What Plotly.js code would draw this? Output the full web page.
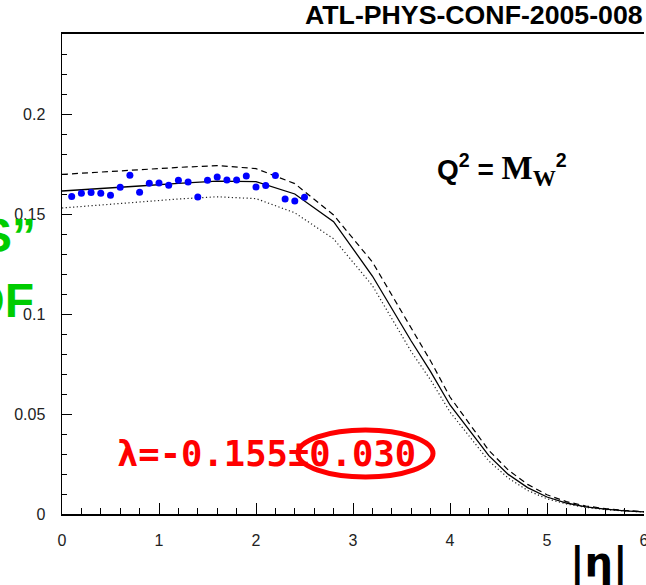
<!DOCTYPE html>
<html>
<head>
<meta charset="utf-8">
<script src="https://cdn.plot.ly/plotly-3.0.1.min.js"></script>
<style>html,body{margin:0;padding:0;background:#fff;}#chart{width:646px;height:585px;}</style>
</head>
<body>
<div id="chart"></div>
<script>
// pseudo-data points (|eta|, value)
const etaData = [0.1,0.2,0.3,0.4,0.5,0.6,0.7,0.8,0.9,1.0,1.1,1.2,1.3,1.4,1.5,1.6,1.7,1.8,1.9,2.0,2.1,2.2,2.3,2.4,2.5];
const valData = [0.1587,0.1604,0.1607,0.1604,0.1594,0.1634,0.1694,0.1609,0.1654,0.1655,0.1644,0.1669,0.1660,0.1585,0.1669,0.1685,0.1670,0.1670,0.1690,0.1635,0.1642,0.1692,0.1575,0.1565,0.1584];

// prediction curves
const etaCurve = [0.0,0.4,0.8,1.2,1.6,2.0,2.4,2.8,3.2,3.6,3.8,4.0,4.2,4.4,4.6,4.8,5.0,5.2,5.4,5.6,5.8,6.0];
const central  = [0.1615,0.1626,0.1640,0.1653,0.1664,0.1662,0.1600,0.1462,0.1190,0.0865,0.0712,0.0545,0.0418,0.0292,0.0198,0.0132,0.0085,0.0055,0.0036,0.0024,0.0016,0.0011];
const upper    = [0.1698,0.1710,0.1722,0.1733,0.1742,0.1727,0.1652,0.1495,0.1260,0.0928,0.0765,0.0585,0.0450,0.0318,0.0220,0.0148,0.0096,0.0062,0.0040,0.0027,0.0018,0.0012];
const lower    = [0.1530,0.1545,0.1560,0.1575,0.1586,0.1577,0.1506,0.1376,0.1142,0.0812,0.0670,0.0510,0.0388,0.0265,0.0180,0.0118,0.0076,0.0050,0.0033,0.0022,0.0015,0.0010];

const topLabel = "ATL-PHYS-CONF-2005-008";
const lambdaLabel = "λ=-0.155±0.030";

const traces = [
  {x: etaCurve, y: upper, mode: 'lines', line: {color: 'black', width: 1.2, dash: '6px,4px'}, hoverinfo: 'skip'},
  {x: etaCurve, y: lower, mode: 'lines', line: {color: '#222', width: 1.2, dash: '1.2px,2.5px'}, hoverinfo: 'skip'},
  {x: etaCurve, y: central, mode: 'lines', line: {color: 'black', width: 1.3}, hoverinfo: 'skip'},
  {x: etaData, y: valData, mode: 'markers', marker: {color: 'rgb(0,0,255)', size: 7}, cliponaxis: false}
];

const PL = 62, PT = 34, PW = 582, PH = 480;
function px(xp){ return (xp - PL)/PW; }
function py(yp){ return (PT + PH - yp)/PH; }

const tickFont = {family: 'Liberation Sans, Arial, sans-serif', size: 16, color: '#222'};

const layout = {
  width: 646, height: 585,
  margin: {l: PL, r: 646-PL-PW, t: PT, b: 585-PT-PH, pad: 0},
  paper_bgcolor: 'white', plot_bgcolor: 'white',
  showlegend: false,
  xaxis: {
    range: [0, 6], dtick: 1, tick0: 0,
    showgrid: false, zeroline: false,
    showline: true, linecolor: 'black', linewidth: 2, mirror: true,
    ticks: 'inside', ticklen: 11, tickwidth: 1, tickcolor: 'black',
    minor: {dtick: 0.2, ticks: 'inside', ticklen: 6, tickwidth: 1, tickcolor: 'black', showgrid: false},
    tickfont: tickFont, ticklabelstandoff: 11, ticklabeloverflow: 'allow'
  },
  yaxis: {
    range: [0, 0.24], dtick: 0.05, tick0: 0,
    showgrid: false, zeroline: false,
    showline: true, linecolor: 'black', linewidth: 1.5, mirror: false,
    ticks: 'inside', ticklen: 10, tickwidth: 1, tickcolor: 'black',
    minor: {dtick: 0.01, ticks: 'inside', ticklen: 5, tickwidth: 1, tickcolor: 'black', showgrid: false},
    tickfont: tickFont, ticklabelstandoff: 12, ticklabeloverflow: 'allow'
  },
  annotations: [
    {xref: 'paper', yref: 'paper', x: px(645), y: py(32), xanchor: 'right', yanchor: 'bottom',
     text: '<b>' + topLabel + '</b>', showarrow: false,
     font: {family: 'Liberation Sans, Arial, sans-serif', size: 26.7, color: 'black'}},
    {xref: 'paper', yref: 'paper', x: px(38), y: py(236), xanchor: 'right', yanchor: 'middle',
     text: '<b>“ZEUS-S”</b>', showarrow: false,
     font: {family: 'Liberation Sans, Arial, sans-serif', size: 48, color: 'rgb(0,204,0)'}},
    {xref: 'paper', yref: 'paper', x: px(36), y: py(300), xanchor: 'right', yanchor: 'middle',
     text: '<b>PDF</b>', showarrow: false,
     font: {family: 'Liberation Sans, Arial, sans-serif', size: 48, color: 'rgb(0,204,0)'}},
    {xref: 'paper', yref: 'paper', x: px(115), y: py(453), xanchor: 'left', yanchor: 'middle',
     text: '<b>' + lambdaLabel + '</b>', showarrow: false,
     font: {family: 'DejaVu Sans Mono, monospace', size: 35.5, color: 'rgb(255,0,0)'}},
    {xref: 'paper', yref: 'paper', x: px(435), y: py(170), xanchor: 'left', yanchor: 'middle',
     text: '<b>Q<sup>2</sup> = </b><span style="font-family:\'Liberation Serif\',serif;font-size:33px"><b>M<sub>W</sub></b></span><b><sup>2</sup></b>', showarrow: false,
     font: {family: 'Liberation Sans, Arial, sans-serif', size: 28, color: 'black'}},
    {xref: 'paper', yref: 'paper', x: px(599), y: py(563), xanchor: 'center', yanchor: 'middle',
     text: '<b>|η|</b>', showarrow: false,
     font: {family: 'DejaVu Sans, sans-serif', size: 40, color: 'black'}}
  ],
  shapes: [
    {type: 'circle', xref: 'paper', yref: 'paper',
     x0: px(298), x1: px(433), y0: py(477), y1: py(430),
     line: {color: 'rgb(255,0,0)', width: 5}}
  ]
};

Plotly.newPlot('chart', traces, layout, {displayModeBar: false, staticPlot: true});
</script>
</body>
</html>
